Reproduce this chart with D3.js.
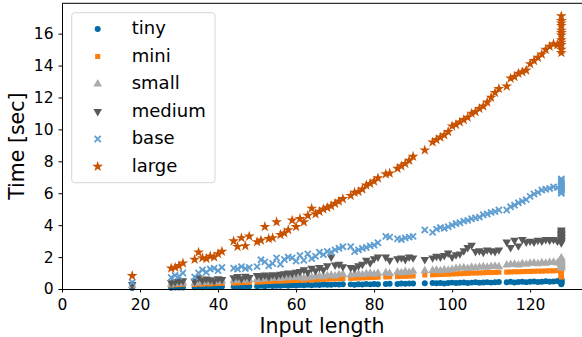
<!DOCTYPE html>
<html>
<head>
<meta charset="utf-8">
<script src="https://cdn.jsdelivr.net/npm/d3@7"></script>
<style>
    body { margin: 0; background: white; }
    text { font-family: "DejaVu Sans", sans-serif; }
</style>
</head>
<body>
<div id="container"></div>
<script>
// input lengths, one entry per sample (the same samples for every model)
const lengths = [18,
    28, 29, 30, 31,
    34, 35, 36, 37, 38, 39, 40, 41,
    44, 45, 46, 47, 48,
    50, 51, 52, 53, 54, 55, 56, 57, 58, 59, 60, 61, 62, 63, 64, 65, 66, 67, 68, 69, 70, 71, 72,
    74, 75, 76, 77, 78, 79, 80, 81,
    83, 84,
    86, 87, 88, 89, 90,
    93,
    95, 96, 97, 98, 99, 100, 101, 102, 103, 104, 105, 106, 107, 108, 109, 110, 111, 112,
    114, 115, 116, 117, 118, 119, 120, 121, 122, 123, 124, 125, 126, 127,
    128, 128, 128, 128, 128, 128, 128, 128, 128, 128, 128, 128];

const tiny = [0.06,
    0.08, 0.09, 0.10, 0.10,
    0.11, 0.12, 0.11, 0.13, 0.12, 0.14, 0.13, 0.15,
    0.15, 0.17, 0.16, 0.18, 0.17,
    0.17, 0.20, 0.18, 0.22, 0.19, 0.21, 0.20, 0.24, 0.21, 0.23, 0.22, 0.25, 0.23, 0.26, 0.24, 0.27, 0.25, 0.28, 0.26, 0.27, 0.29, 0.28, 0.30,
    0.29, 0.26, 0.30, 0.28, 0.31, 0.29, 0.32, 0.30,
    0.31, 0.33,
    0.32, 0.34, 0.33, 0.35, 0.34,
    0.36,
    0.37, 0.36, 0.38, 0.35, 0.38, 0.40, 0.37, 0.39, 0.41, 0.38, 0.40, 0.42, 0.39, 0.41, 0.43, 0.40, 0.42, 0.44,
    0.42, 0.45, 0.41, 0.44, 0.46, 0.43, 0.45, 0.47, 0.44, 0.46, 0.48, 0.45, 0.47, 0.50,
    0.30, 0.35, 0.40, 0.45, 0.50, 0.55, 0.60, 0.38, 0.42, 0.48, 0.52, 0.65];

const mini = [0.20,
    0.25, 0.27, 0.28, 0.30,
    0.28, 0.31, 0.30, 0.33, 0.32, 0.34, 0.35, 0.36,
    0.37, 0.39, 0.40, 0.41, 0.42,
    0.44, 0.45, 0.46, 0.47, 0.48, 0.50, 0.50, 0.51, 0.52, 0.53, 0.54, 0.55, 0.56, 0.57, 0.58, 0.58, 0.60, 0.60, 0.62, 0.63, 0.64, 0.65, 0.66,
    0.67, 0.68, 0.69, 0.70, 0.71, 0.72, 0.73, 0.74,
    0.76, 0.77,
    0.78, 0.79, 0.80, 0.81, 0.82,
    0.88,
    0.89, 0.90, 0.91, 0.92, 0.93, 0.94, 0.95, 0.96, 0.97, 0.98, 1.00, 1.00, 1.01, 1.02, 1.03, 1.03, 1.04, 1.05,
    1.06, 1.07, 1.08, 1.08, 1.09, 1.10, 1.10, 1.11, 1.12, 1.12, 1.13, 1.14, 1.14, 1.15,
    0.75, 0.85, 0.95, 1.00, 1.05, 1.10, 1.15, 0.90, 1.20, 0.80, 1.00, 1.10];

const small = [0.22,
    0.30, 0.33, 0.35, 0.38,
    0.36, 0.42, 0.40, 0.45, 0.43, 0.48, 0.46, 0.50,
    0.52, 0.56, 0.54, 0.58, 0.57,
    0.60, 0.64, 0.62, 0.67, 0.68, 0.70, 0.65, 0.72, 0.70, 0.74, 0.72, 0.76, 0.68, 0.78, 0.74, 0.80, 0.82, 0.77, 0.84, 0.87, 0.82, 0.90, 0.92,
    0.88, 0.92, 0.94, 0.90, 0.96, 0.97, 0.92, 0.99,
    1.02, 0.97,
    1.06, 1.02, 1.10, 1.04, 1.12,
    1.14,
    1.16, 1.19, 1.15, 1.21, 1.18, 1.23, 1.28, 1.31, 1.33, 1.29, 1.36, 1.33, 1.37, 1.40, 1.36, 1.41, 1.43, 1.39,
    1.50, 1.53, 1.56, 1.51, 1.59, 1.55, 1.61, 1.63, 1.58, 1.65, 1.62, 1.66, 1.68, 1.63,
    1.30, 1.40, 1.50, 1.60, 1.70, 1.80, 1.90, 1.45, 1.55, 1.65, 1.75, 1.95];

const medium = [0.28,
    0.40, 0.45, 0.50, 0.52,
    0.48, 0.70, 0.55, 0.62, 0.58, 0.50, 0.65, 0.60,
    0.70, 0.78, 0.65, 0.80, 0.72,
    0.85, 0.80, 0.88, 0.78, 0.90, 0.85, 0.92, 0.95, 1.00, 0.98, 1.05, 1.10, 1.20, 1.05, 1.30, 1.15, 1.35, 1.20, 1.45, 2.00, 1.50, 1.55, 1.40,
    1.35, 1.30, 1.45, 1.55, 1.80, 1.65, 1.90, 2.00,
    2.00, 1.80,
    1.90, 1.95, 1.85, 2.00, 1.95,
    1.85,
    1.95, 2.05, 2.00, 2.10, 2.25, 2.00, 2.15, 2.20, 2.40, 2.60, 2.75, 2.35, 2.40, 2.30, 2.45, 2.40, 2.35, 2.45,
    2.95, 2.60, 3.05, 2.70, 3.10, 2.95, 3.00, 2.95, 3.05, 3.00, 3.10, 3.05, 3.10, 3.00,
    2.90, 3.00, 3.10, 3.20, 3.30, 3.40, 3.50, 3.60, 3.05, 3.25, 3.45, 3.70];

const base = [0.42,
    0.72, 0.85, 0.80, 1.00,
    0.75, 1.00, 1.20, 1.05, 1.25, 1.30, 1.15, 1.35,
    1.30, 1.25, 1.40, 1.28, 1.35,
    1.40, 1.83, 1.70, 1.45, 1.60, 1.95, 1.55, 1.85, 2.00, 1.95, 1.75, 2.10, 1.80, 2.20, 1.90, 2.05, 2.30, 2.15, 2.35, 2.30, 2.45, 2.55, 2.65,
    2.65, 2.35, 2.45, 2.55, 2.60, 2.70, 2.75, 2.90,
    3.30, 3.25,
    3.15, 3.10, 3.20, 3.25, 3.30,
    3.70,
    3.55, 3.75, 3.85, 3.80, 3.90, 4.00, 4.10, 4.15, 4.25, 4.30, 4.40, 4.45, 4.50, 4.65, 4.70, 4.80, 4.85, 4.95,
    4.95, 5.15, 5.25, 5.40, 5.50, 5.60, 5.80, 5.95, 6.05, 6.20, 6.25, 6.30, 6.40, 6.35,
    6.00, 6.10, 6.20, 6.30, 6.40, 6.50, 6.60, 6.70, 6.80, 6.25, 6.45, 6.90];

const large = [0.83,
    1.30, 1.35, 1.45, 1.62,
    1.85, 2.30, 1.95, 1.90, 2.05, 2.00, 2.20, 2.35,
    3.00, 2.65, 3.20, 2.70, 3.30,
    2.95, 3.05, 3.90, 3.15, 3.20, 4.20, 3.40, 3.50, 3.70, 4.30, 3.90, 4.40, 4.20, 4.60, 5.05, 4.70, 4.85, 5.00, 5.10, 5.20, 5.35, 5.50, 5.65,
    5.85, 6.05, 6.10, 6.25, 6.50, 6.60, 6.75, 6.95,
    7.20, 7.25,
    7.55, 7.70, 7.85, 8.05, 8.30,
    8.70,
    9.20, 9.35, 9.50, 9.65, 9.85, 10.20, 10.30, 10.45, 10.60, 10.75, 11.00, 11.10, 11.30, 11.45, 11.70, 12.00, 12.30, 12.55,
    12.70, 13.20, 13.30, 13.50, 13.60, 13.70, 14.10, 14.30, 14.50, 14.70, 15.00, 15.20, 15.35, 15.30,
    14.80, 15.00, 15.30, 15.60, 15.90, 16.20, 16.50, 16.80, 17.10, 15.45, 16.05, 16.65];

const xTicks = [0, 20, 40, 60, 80, 100, 120];
const yTicks = [0, 2, 4, 6, 8, 10, 12, 14, 16];

const series = [
    {name: 'tiny', values: tiny, color: '#006BA4', marker: 'circle'},
    {name: 'mini', values: mini, color: '#FF800E', marker: 'square'},
    {name: 'small', values: small, color: '#ABABAB', marker: 'up'},
    {name: 'medium', values: medium, color: '#595959', marker: 'down'},
    {name: 'base', values: base, color: '#5F9ED1', marker: 'x'},
    {name: 'large', values: large, color: '#C85200', marker: 'star'},
];

const config = {
    width: 582,
    height: 337,
    marginLeft: 62,
    marginRight: 0,
    marginTop: 3.3,
    marginBottom: 48,
}
const innerW = config.width - config.marginLeft - config.marginRight;
const innerH = config.height - config.marginTop - config.marginBottom;

const svg = d3.select('#container')
    .append('svg')
    .attr('width', config.width)
    .attr('height', config.height)

const g = svg.append('g')
    .attr('transform', `translate(${config.marginLeft}, ${config.marginTop})`)

const xScale = d3.scaleLinear()
    .domain([0, 133.3])
    .range([0, innerW])

const yScale = d3.scaleLinear()
    .domain([0, 17.9])
    .range([innerH, 0])

const symbolFor = {
    circle: d3.symbol(d3.symbolCircle, 28),
    square: d3.symbol(d3.symbolSquare, 26),
    up: d3.symbol(d3.symbolTriangle, 32),
    down: d3.symbol(d3.symbolTriangle, 32),
    x: d3.symbol(d3.symbolX, 26),
    star: d3.symbol(d3.symbolStar, 36),
}

const drawMarker = (sel, s) => {
    sel.attr('d', symbolFor[s.marker]())
    if (s.marker === 'x') {
        sel.attr('fill', 'none').attr('stroke', s.color).attr('stroke-width', 1.8)
    } else {
        sel.attr('fill', s.color)
    }
}

const points = g.append('g').attr('class', 'points')
series.forEach(s => {
    points.append('g')
        .selectAll('path')
        .data(lengths.map((len, i) => ({x: len, y: s.values[i]})))
        .join('path')
        .attr('transform', d => `translate(${xScale(d.x)},${yScale(d.y)})` + (s.marker === 'down' ? ' rotate(180)' : ''))
        .call(drawMarker, s)
})

// axes
g.append('g')
    .attr('transform', `translate(0,${innerH})`)
    .call(d3.axisBottom(xScale).tickValues(xTicks).tickSize(3.5).tickPadding(6).tickSizeOuter(0))
g.append('g')
    .call(d3.axisLeft(yScale).tickValues(yTicks).tickSize(3.5).tickPadding(5).tickSizeOuter(0))

g.selectAll('.tick text')
    .style('font-size', '15.5px')
    .style('font-family', '"DejaVu Sans", sans-serif')
    .attr('fill', 'black')
g.selectAll('.domain').attr('stroke', 'black').attr('stroke-width', 1)
g.selectAll('.tick line').attr('stroke', 'black').attr('stroke-width', 1)

// top spine
g.append('line').attr('x1', 0).attr('x2', innerW).attr('y1', 0).attr('y2', 0)
    .attr('stroke', 'black').attr('stroke-width', 1)

svg.append('text')
    .attr('text-anchor', 'middle')
    .attr('x', config.marginLeft + innerW / 2)
    .attr('y', 333)
    .text('Input length')
    .style('font-size', '20.5px')

svg.append('text')
    .attr('text-anchor', 'middle')
    .attr('transform', `translate(23.5, ${config.marginTop + innerH / 2}) rotate(-90)`)
    .text('Time [sec]')
    .style('font-size', '20.5px')

// legend
const legend = svg.append('g').attr('class', 'legend')
legend.append('rect')
    .attr('x', 71.7)
    .attr('y', 12.7)
    .attr('width', 143.3)
    .attr('height', 170)
    .attr('rx', 3)
    .attr('fill', 'white')
    .attr('fill-opacity', 0.8)
    .attr('stroke', '#d6d6d6')

const rows = legend.selectAll('g.row')
    .data(series)
    .join('g')
    .attr('class', 'row')
    .attr('transform', (_, i) => `translate(0, ${34.3 + 27.5 * i})`)

rows.append('path')
    .attr('transform', d => `translate(97.7,-5.3)` + (d.marker === 'down' ? ' rotate(180)' : ''))
    .each(function (d) { d3.select(this).call(drawMarker, d) })

rows.append('text')
    .attr('x', 131.7)
    .attr('y', 0)
    .text(d => d.name)
    .style('font-size', '18px')
</script>
</body>
</html>
